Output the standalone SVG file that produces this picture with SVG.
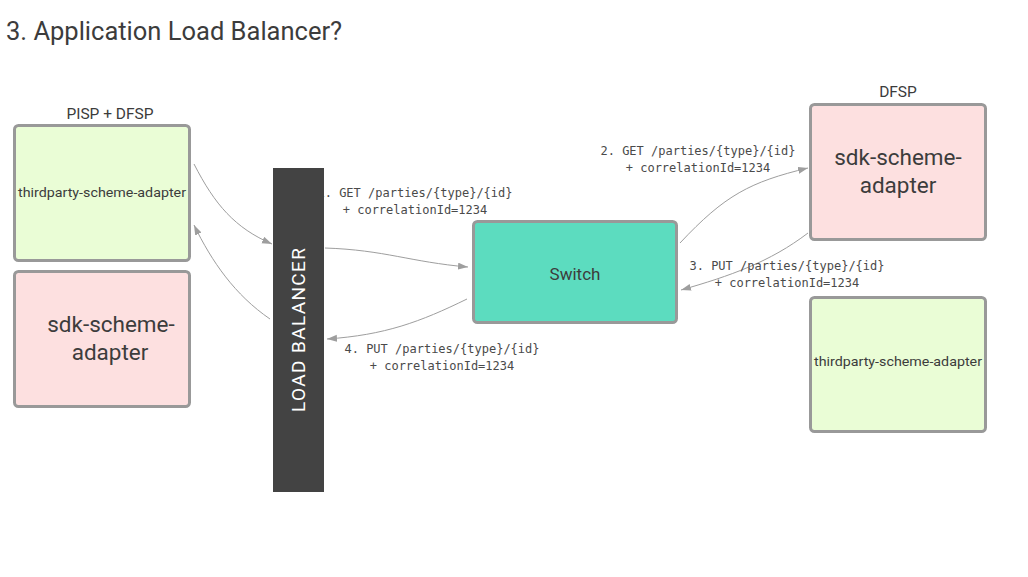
<svg xmlns="http://www.w3.org/2000/svg" width="1028" height="577" viewBox="0 0 1028 577">
<style>
.box{stroke:#999999;stroke-width:3}
.green{fill:#eafdd6}
.pink{fill:#fde0e0}
.t{font-family:Roboto,"Liberation Sans",sans-serif;fill:#3c3c3c;text-anchor:middle}
.mono{font-family:"DejaVu Sans Mono","Liberation Mono",monospace;font-size:12px;fill:#4a4a4a;text-anchor:middle}
.conn{fill:none;stroke:#9e9e9e;stroke-width:1}
</style>
<defs>
<marker id="arr" markerUnits="userSpaceOnUse" markerWidth="11" markerHeight="8" refX="10" refY="3.5" orient="auto">
<path d="M0,0 L10,3.5 L0,7 z" fill="#9e9e9e"/>
</marker>
</defs>
<rect width="1028" height="577" fill="#ffffff"/>
<text x="6" y="40" font-family="Roboto,'Liberation Sans',sans-serif" font-size="25.5" fill="#3c3c3c">3. Application Load Balancer?</text>

<g id="connectors">
<path class="conn" d="M194,164 C215,205 235,228 272,244" marker-end="url(#arr)"/>
<path class="conn" d="M325,248 C385,250 410,262 468,267" marker-end="url(#arr)"/>
<path class="conn" d="M680,243 C725,195 750,182 808,168" marker-end="url(#arr)"/>
<path class="conn" d="M808,233 C770,262 730,276 681,290" marker-end="url(#arr)"/>
<path class="conn" d="M467,299 C420,322 385,335 327,339" marker-end="url(#arr)"/>
<path class="conn" d="M270,319 C235,295 212,262 194,225" marker-end="url(#arr)"/>
<text class="mono" x="415" y="197">1. GET /parties/{type}/{id}</text>
<text class="mono" x="415" y="214">+ correlationId=1234</text>
<text class="mono" x="698" y="155">2. GET /parties/{type}/{id}</text>
<text class="mono" x="698" y="172">+ correlationId=1234</text>
<text class="mono" x="787" y="270">3. PUT /parties/{type}/{id}</text>
<text class="mono" x="787" y="287">+ correlationId=1234</text>
<text class="mono" x="442" y="353">4. PUT /parties/{type}/{id}</text>
<text class="mono" x="442" y="370">+ correlationId=1234</text>
</g>

<g id="label-pisp">
<text class="t" x="110" y="119" font-size="15.5">PISP + DFSP</text>
</g>
<g id="label-dfsp">
<text class="t" x="898" y="97" font-size="15.5">DFSP</text>
</g>

<g id="left-thirdparty">
<rect class="box green" x="14.5" y="125.5" width="175" height="135" rx="4"/>
<text class="t" x="102" y="197" font-size="13.5" textLength="168" lengthAdjust="spacingAndGlyphs">thirdparty-scheme-adapter</text>
</g>
<g id="left-sdk">
<rect class="box pink" x="14.5" y="271.5" width="175" height="135" rx="4"/>
<text class="t" x="111" y="332" font-size="22.5">sdk-scheme-</text>
<text class="t" x="110" y="360" font-size="22.5">adapter</text>
</g>

<g id="load-balancer">
<rect x="273" y="168" width="51" height="324" fill="#434343"/>
<text transform="translate(305,330) rotate(-90)" x="0" y="0" font-family="Roboto,'Liberation Sans',sans-serif" font-size="19" fill="#ffffff" text-anchor="middle" textLength="164" lengthAdjust="spacing">LOAD  BALANCER</text>
</g>

<g id="switch">
<rect x="473.5" y="221.5" width="203" height="101" rx="4" fill="#5cdcbf" stroke="#999999" stroke-width="3"/>
<text class="t" x="575" y="280" font-size="17">Switch</text>
</g>

<g id="right-sdk">
<rect class="box pink" x="810.5" y="104.5" width="175" height="135" rx="4"/>
<text class="t" x="898" y="165" font-size="22.5">sdk-scheme-</text>
<text class="t" x="898" y="193" font-size="22.5">adapter</text>
</g>
<g id="right-thirdparty">
<rect class="box green" x="810.5" y="297.5" width="175" height="134" rx="4"/>
<text class="t" x="898" y="366" font-size="13.5" textLength="168" lengthAdjust="spacingAndGlyphs">thirdparty-scheme-adapter</text>
</g>
</svg>
